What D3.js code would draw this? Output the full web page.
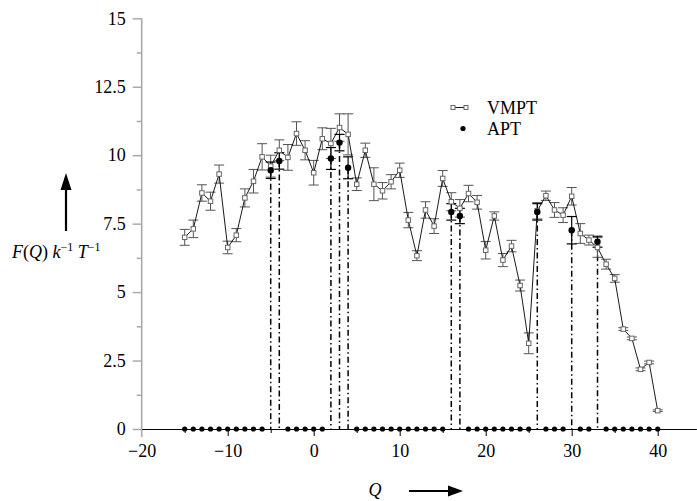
<!DOCTYPE html>
<html>
<head>
<meta charset="utf-8">
<script src="https://cdn.jsdelivr.net/npm/d3@7"></script>
<style>
  html, body { margin: 0; padding: 0; background: #fff; }
  svg { display: block; }
  svg text { font-family: "Liberation Serif", "DejaVu Serif", serif !important; fill: #000; }
</style>
</head>
<body>
<svg id="chart" width="697" height="501"></svg>
<script>
// ---- data ----
const qValues = [-15,-14,-13,-12,-11,-10,-9,-8,-7,-6,-5,-4,-3,-2,-1,0,1,2,3,4,5,6,7,8,9,10,11,12,13,14,15,16,17,18,19,20,21,22,23,24,25,26,27,28,29,30,31,32,33,34,35,36,37,38,39,40];
const vmptValues = [7.0,7.31,8.62,8.32,9.31,6.63,7.08,8.44,9.05,9.94,9.6,10.18,9.92,10.79,10.18,9.36,10.6,10.43,11.01,10.76,8.94,10.18,8.94,8.7,9.03,9.45,7.63,6.33,8.0,7.41,9.15,8.3,8.06,8.6,8.28,6.53,7.78,6.17,6.68,5.24,3.13,7.97,8.52,8.0,7.81,8.5,7.14,6.9,6.63,6.02,5.5,3.65,3.31,2.18,2.43,0.67];
const vmptErrors = [0.29,0.32,0.3,0.33,0.33,0.23,0.24,0.33,0.43,0.48,0.4,0.38,0.47,0.43,0.35,0.45,0.4,0.55,0.5,0.75,0.23,0.26,0.6,0.3,0.26,0.26,0.28,0.18,0.3,0.27,0.29,0.33,0.32,0.3,0.25,0.32,0.15,0.24,0.21,0.2,0.38,0.3,0.17,0.27,0.27,0.32,0.36,0.18,0.36,0.18,0.14,0.05,0.05,0.05,0.05,0.03];
const aptValues = [0,0,0,0,0,0,0,0,0,0,9.45,9.79,0,0,0,0,0,9.88,10.46,9.54,0,0,0,0,0,0,0,0,0,0,0,7.93,7.78,0,0,0,0,0,0,0,0,7.93,0,0,0,7.26,0,0,6.84,0,0,0,0,0,0,0];
const aptErrors = [0,0,0,0,0,0,0,0,0,0,0.3,0.3,0,0,0,0,0,0.4,0.3,0.4,0,0,0,0,0,0,0,0,0,0,0,0.3,0.28,0,0,0,0,0,0,0,0,0.3,0,0,0,0.5,0,0,0.2,0,0,0,0,0,0,0];
const xTickValues = [-20,-10,0,10,20,30,40];
const xMinorTickValues = [-15,-5,5,15,25,35];
const yTickValues = [0,2.5,5,7.5,10,12.5,15];
const yTickLabels = ["0","2.5","5","7.5","10","12.5","15"];
const yMinorTickValues = [1.25,3.75,6.25,8.75,11.25,13.75];
const legendLabels = ["VMPT","APT"];

// ---- layout ----
const FONT = "'Liberation Serif', 'DejaVu Serif', serif";
const svg = d3.select("#chart");
const x = d3.scaleLinear().domain([-20, 44.5]).range([141.7, 696.4]);
const y = d3.scaleLinear().domain([0, 15]).range([429, 18.3]);

// y axis (grey)
const gy = svg.append("g").attr("transform", `translate(${x(-20)},0)`);
gy.call(d3.axisLeft(y).tickValues(yTickValues).tickSize(9).tickPadding(7)
  .tickFormat((d,i) => yTickLabels[i]));
gy.attr("font-family", FONT).attr("font-size", 18);
gy.select(".domain").remove();
gy.selectAll(".tick line").attr("stroke", "#aaa").attr("stroke-width", 1.5);
gy.selectAll(".tick text").attr("fill", "#000");
const gym = svg.append("g").attr("transform", `translate(${x(-20)},0)`);
gym.call(d3.axisLeft(y).tickValues(yMinorTickValues).tickSize(5).tickFormat(""));
gym.select(".domain").remove();
gym.selectAll(".tick line").attr("stroke", "#aaa").attr("stroke-width", 1.5);
svg.append("line")
  .attr("x1", x(-20)).attr("x2", x(-20))
  .attr("y1", y(15)).attr("y2", y(0) + 8)
  .attr("stroke", "#aaa").attr("stroke-width", 1.6);

// x axis (black)
const gx = svg.append("g").attr("transform", `translate(0,${y(0)})`);
gx.call(d3.axisBottom(x).tickValues(xTickValues).tickSize(7).tickSizeOuter(0).tickPadding(8)
  .tickFormat(d => d < 0 ? "\u2212" + Math.abs(d) : String(d)));
gx.attr("font-family", FONT).attr("font-size", 18);
gx.select(".domain").attr("stroke", "#000").attr("stroke-width", 1.2);
gx.selectAll(".tick line").attr("stroke", "#000").attr("stroke-width", 1);
gx.selectAll(".tick").filter(d => d === -20).select("line").remove();
gx.selectAll(".tick text").attr("fill", "#000");
const gxm = svg.append("g").attr("transform", `translate(0,${y(0)})`);
gxm.call(d3.axisBottom(x).tickValues(xMinorTickValues).tickSize(4).tickFormat(""));
gxm.select(".domain").remove();
gxm.selectAll(".tick line").attr("stroke", "#000");

// data rows
const vmpt = qValues.map((q,i) => ({q, v: vmptValues[i], e: vmptErrors[i]}));
const apt = qValues.map((q,i) => ({q, v: aptValues[i], e: aptErrors[i]}));
const aptNZ = apt.filter(d => d.v > 0);

// dash-dot drop lines for APT
svg.append("g").selectAll("line").data(aptNZ).join("line")
  .attr("x1", d => x(d.q)).attr("x2", d => x(d.q))
  .attr("y1", d => y(d.v)).attr("y2", y(0))
  .attr("stroke", "#000").attr("stroke-width", 1.5)
  .attr("stroke-dasharray", "6,3,1.5,3");

// VMPT error bars
const capW = 5;
const eb = svg.append("g").attr("stroke", "#555").attr("stroke-width", 1);
eb.selectAll("line.v").data(vmpt).join("line").attr("class","v")
  .attr("x1", d => x(d.q)).attr("x2", d => x(d.q))
  .attr("y1", d => y(d.v + d.e)).attr("y2", d => y(d.v - d.e));
eb.selectAll("line.t").data(vmpt).join("line").attr("class","t")
  .attr("x1", d => x(d.q) - capW).attr("x2", d => x(d.q) + capW)
  .attr("y1", d => y(d.v + d.e)).attr("y2", d => y(d.v + d.e));
eb.selectAll("line.b").data(vmpt).join("line").attr("class","b")
  .attr("x1", d => x(d.q) - capW).attr("x2", d => x(d.q) + capW)
  .attr("y1", d => y(d.v - d.e)).attr("y2", d => y(d.v - d.e));

// APT error bars
const ea = svg.append("g").attr("stroke", "#000").attr("stroke-width", 1.2);
ea.selectAll("line.v").data(aptNZ).join("line").attr("class","v")
  .attr("x1", d => x(d.q)).attr("x2", d => x(d.q))
  .attr("y1", d => y(d.v + d.e)).attr("y2", d => y(d.v - d.e));
ea.selectAll("line.t").data(aptNZ).join("line").attr("class","t")
  .attr("x1", d => x(d.q) - capW).attr("x2", d => x(d.q) + capW)
  .attr("y1", d => y(d.v + d.e)).attr("y2", d => y(d.v + d.e));
ea.selectAll("line.b").data(aptNZ).join("line").attr("class","b")
  .attr("x1", d => x(d.q) - capW).attr("x2", d => x(d.q) + capW)
  .attr("y1", d => y(d.v - d.e)).attr("y2", d => y(d.v - d.e));

// VMPT line
svg.append("path").datum(vmpt)
  .attr("d", d3.line().x(d => x(d.q)).y(d => y(d.v)))
  .attr("fill", "none").attr("stroke", "#000").attr("stroke-width", 0.9);

// VMPT squares
const sq = 4.5;
svg.append("g").selectAll("rect").data(vmpt).join("rect")
  .attr("x", d => x(d.q) - sq/2).attr("y", d => y(d.v) - sq/2)
  .attr("width", sq).attr("height", sq)
  .attr("fill", "#fff").attr("stroke", "#666").attr("stroke-width", 1);

// APT dots
svg.append("g").selectAll("circle").data(apt).join("circle")
  .attr("cx", d => x(d.q)).attr("cy", d => y(d.v))
  .attr("r", d => d.v > 0 ? 3.2 : 2.6)
  .attr("fill", "#000");

// legend
const lg = svg.append("g").attr("font-family", FONT).attr("font-size", 18);
lg.append("line").attr("x1", 453).attr("x2", 466).attr("y1", 107.5).attr("y2", 107.5)
  .attr("stroke", "#000").attr("stroke-width", 0.9);
[453, 466].forEach(px => lg.append("rect").attr("x", px - 2).attr("y", 105.5)
  .attr("width", 4).attr("height", 4).attr("fill", "#fff").attr("stroke", "#666"));
lg.append("text").attr("x", 487).attr("y", 113.5).text(legendLabels[0]);
lg.append("circle").attr("cx", 463).attr("cy", 128.5).attr("r", 2.6).attr("fill", "#000");
lg.append("text").attr("x", 487).attr("y", 134.5).text(legendLabels[1]);

// y axis title with arrow
const yt = svg.append("text").attr("x", 12).attr("y", 258)
  .attr("font-family", FONT).attr("font-size", 18);
yt.append("tspan").attr("font-style", "italic").text("F");
yt.append("tspan").text("(");
yt.append("tspan").attr("font-style", "italic").text("Q");
yt.append("tspan").text(") ");
yt.append("tspan").attr("font-style", "italic").text("k");
yt.append("tspan").attr("dy", -7).attr("font-size", 12).text("\u22121");
yt.append("tspan").attr("dy", 7).text(" ");
yt.append("tspan").attr("font-style", "italic").text("T");
yt.append("tspan").attr("dy", -7).attr("font-size", 12).text("\u22121");

svg.append("line").attr("x1", 66).attr("x2", 66).attr("y1", 231).attr("y2", 186)
  .attr("stroke", "#000").attr("stroke-width", 2.2);
svg.append("path").attr("d", "M66,173 L60.5,190 L71.5,190 Z").attr("fill", "#000");

// x axis title with arrow
svg.append("text").attr("x", 375).attr("y", 496).attr("text-anchor", "middle")
  .attr("font-family", FONT).attr("font-size", 18).attr("font-style", "italic").text("Q");
svg.append("line").attr("x1", 409).attr("x2", 450).attr("y1", 491).attr("y2", 491)
  .attr("stroke", "#000").attr("stroke-width", 2.2);
svg.append("path").attr("d", "M463,491 L448,485.5 L448,496.5 Z").attr("fill", "#000");
</script>
</body>
</html>
